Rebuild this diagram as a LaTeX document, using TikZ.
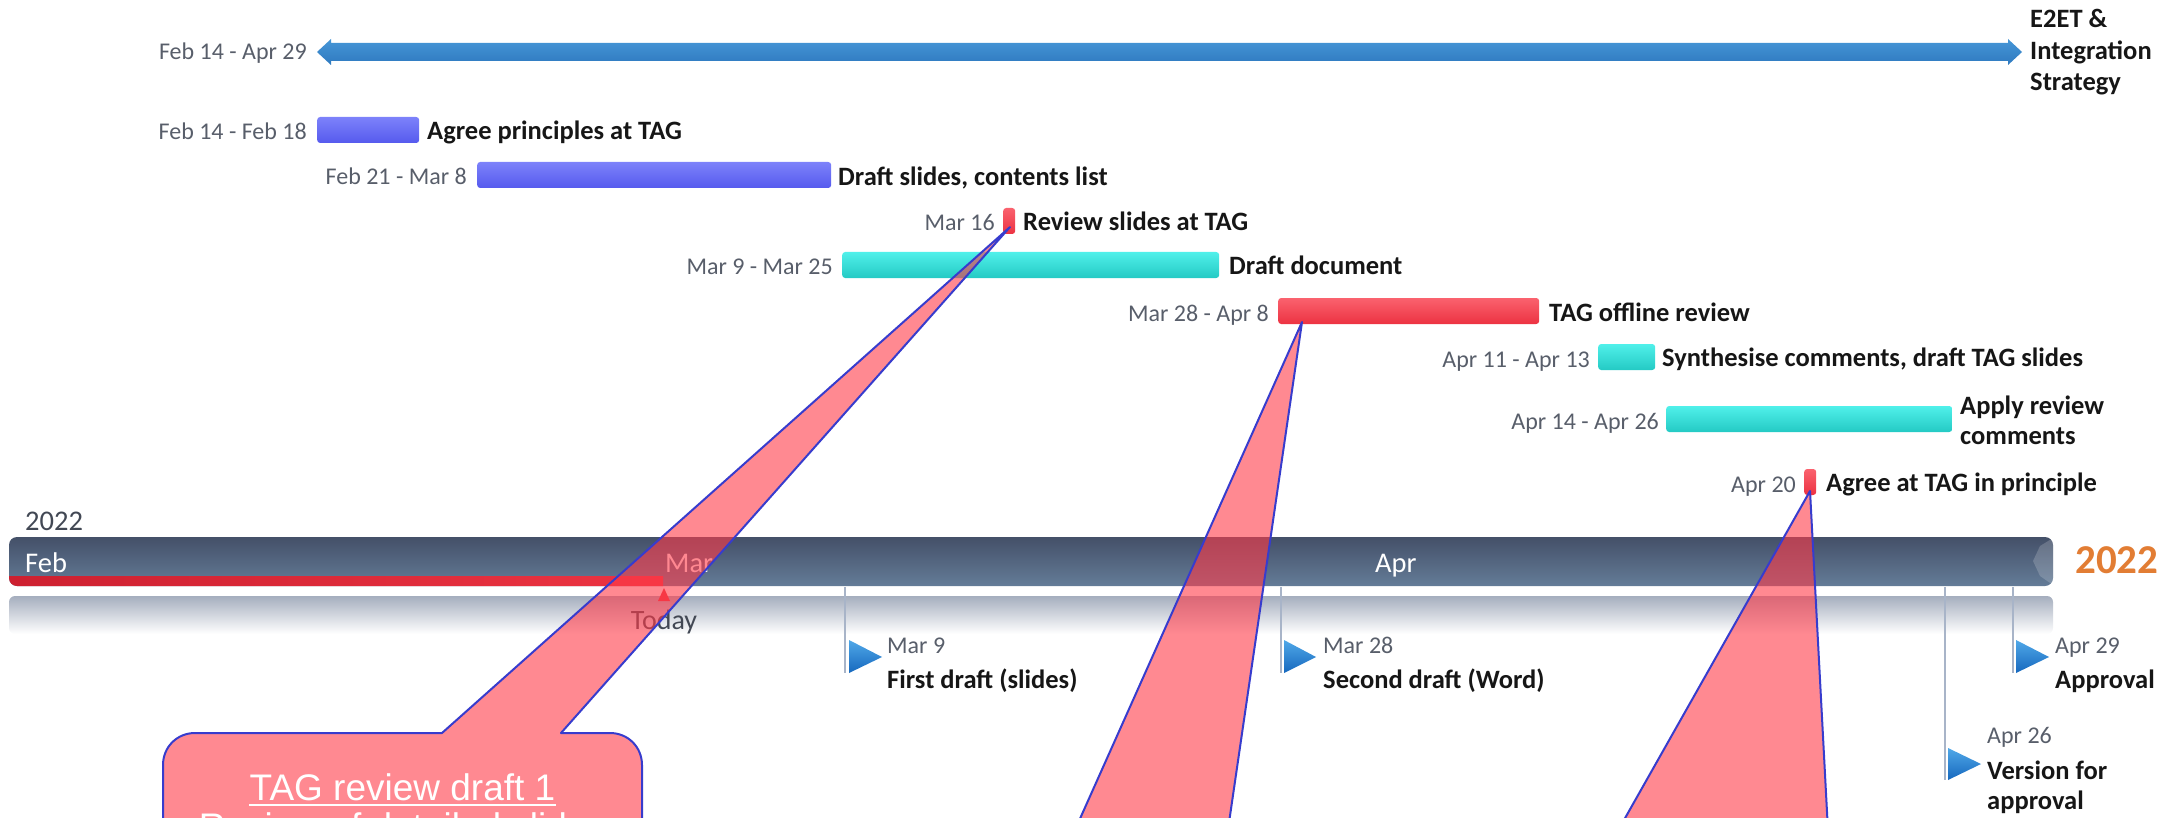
\documentclass[tikz,border=0pt]{standalone}
\usepackage{fontspec}
\setmainfont{Carlito}
\newfontfamily\arialfont{Liberation Sans}
\definecolor{violetbar}{RGB}{86,90,238}
\definecolor{violettop}{RGB}{125,130,250}
\definecolor{cyanbar}{RGB}{36,202,196}
\definecolor{cyantop}{RGB}{80,240,234}
\definecolor{redbar}{RGB}{236,50,66}
\definecolor{redtop}{RGB}{250,98,110}
\definecolor{arrowblue}{RGB}{10,98,180}
\definecolor{arrowlight}{RGB}{70,150,215}
\definecolor{datecol}{RGB}{88,94,106}
\definecolor{labelcol}{RGB}{22,22,22}
\definecolor{tlbartop}{RGB}{68,80,104}
\definecolor{tlbarbot}{RGB}{100,124,152}
\definecolor{todayred}{RGB}{205,32,48}
\definecolor{todayred2}{RGB}{236,52,66}
\definecolor{yearorange}{RGB}{226,125,52}
\definecolor{callfill}{RGB}{255,58,72}
\definecolor{callline}{RGB}{55,60,205}
\definecolor{tickcol}{RGB}{168,180,200}
\definecolor{msblue}{RGB}{22,104,190}
\definecolor{msbluelight}{RGB}{80,168,232}
\definecolor{reflgray}{RGB}{165,174,190}
\definecolor{yeargray}{RGB}{66,72,84}
\begin{document}
\begin{tikzpicture}[x=1pt,y=-1pt,
  datelbl/.style={font=\fontsize{24}{28}\selectfont, text=datecol, inner sep=0pt, anchor=base east},
  msdate/.style={font=\fontsize{24}{28}\selectfont, text=datecol, inner sep=0pt, anchor=base west},
  tasklbl/.style={font=\bfseries\fontsize{26.5}{31}\selectfont, text=labelcol, inner sep=0pt, anchor=base west},
  monthlbl/.style={font=\fontsize{28.5}{32}\selectfont, text=white, inner sep=0pt, anchor=base west},
  gbar/.style={rounded corners=3pt, inner sep=0pt, minimum height=26pt, anchor=west},
  violetbarS/.style={gbar, top color=violettop, bottom color=violetbar},
  cyanbarS/.style={gbar, top color=cyantop, bottom color=cyanbar},
  redbarS/.style={gbar, top color=redtop, bottom color=redbar},
  tickline/.style={draw=tickcol, line width=1.2pt},
  msmark/.style={top color=msbluelight, bottom color=msblue},
  callout/.style={draw=callline, line width=2pt, fill=callfill, fill opacity=0.6, line join=round},
  calltext/.style={font=\arialfont\fontsize{37}{42}\selectfont, text=white, inner sep=0pt, anchor=base}]
\useasboundingbox (0,0) rectangle (2183,818);
\begin{scope}
\clip (0,0) rectangle (2183,818);

% ---------- top summary arrow ----------
\shade[top color=arrowlight, middle color=arrowblue, bottom color=arrowblue!85!white]
  (317,52) -- (331,39) -- (331,43) -- (2008,43) -- (2008,39) -- (2022,52)
  -- (2008,65) -- (2008,61) -- (331,61) -- (331,65) -- cycle;
\node[datelbl] (d0) at (307,60) {Feb 14 - Apr 29};
\node[tasklbl] (l0a) at (2030,28) {E2ET \&};
\node[tasklbl] (l0b) at (2030,60) {Integration};
\node[tasklbl] (l0c) at (2030,91) {Strategy};

% ---------- task bars ----------
\node[violetbarS, minimum width=102pt] (b1) at (317,130) {};
\node[violetbarS, minimum width=354pt] (b2) at (477,175) {};
\node[redbarS, minimum width=12pt] (b3) at (1003,221) {};
\node[cyanbarS, minimum width=377pt] (b4) at (842,265) {};
\node[redbarS, minimum width=261pt] (b5) at (1278,311) {};
\node[cyanbarS, minimum width=57pt] (b6) at (1598,357) {};
\node[cyanbarS, minimum width=286pt] (b7) at (1666,419) {};
\node[redbarS, minimum width=12pt] (b8) at (1804,482) {};

\node[datelbl] (d1) at (307,140) {Feb 14 - Feb 18};
\node[datelbl] (d2) at (467,185) {Feb 21 - Mar 8};
\node[datelbl] (d3) at (995,231) {Mar 16};
\node[datelbl] (d4) at (833,275) {Mar 9 - Mar 25};
\node[datelbl] (d5) at (1269,321) {Mar 28 - Apr 8};
\node[datelbl] (d6) at (1590,367) {Apr 11 - Apr 13};
\node[datelbl] (d7) at (1659,429) {Apr 14 - Apr 26};
\node[datelbl] (d8) at (1796,492) {Apr 20};

\node[tasklbl] (l1) at (427,140) {Agree principles at TAG};
\node[tasklbl] (l2) at (838,186) {Draft slides, contents list};
\node[tasklbl] (l3) at (1023,231) {Review slides at TAG};
\node[tasklbl] (l4) at (1229,275) {Draft document};
\node[tasklbl] (l5) at (1549,321) {TAG offline review};
\node[tasklbl] (l6) at (1662,366) {Synthesise comments, draft TAG slides};
\node[tasklbl] (l7a) at (1960,414) {Apply review};
\node[tasklbl] (l7b) at (1960,444) {comments};
\node[tasklbl] (l8) at (1826,491) {Agree at TAG in principle};

% ---------- timeline band ----------
\node[font=\fontsize{28.5}{32}\selectfont, text=yeargray, inner sep=0pt, anchor=base west] (yr) at (25,530) {2022};
\shade[top color=reflgray, bottom color=white, rounded corners=6pt] (9,596) rectangle (2053,634);
\shade[top color=tlbartop, bottom color=tlbarbot, rounded corners=8pt] (9,537) rectangle (2053,586);
\begin{scope}
  \clip[rounded corners=8pt] (9,537) rectangle (2053,586);
  \shade[left color=todayred, right color=todayred2] (9,576) rectangle (663,586);
  \fill[white, opacity=0.18] (2053,538) -- (2040,546) -- (2033,561) -- (2040,576) -- (2053,585) -- cycle;
\end{scope}
\node[monthlbl] (mfeb) at (25,572) {Feb};
\node[monthlbl] (mmar) at (665,572) {Mar};
\node[monthlbl] (mapr) at (1375,572) {Apr};
\node[font=\bfseries\fontsize{41}{46}\selectfont, text=yearorange, inner sep=0pt, anchor=base west] (yr2) at (2075,573) {2022};

% today marker
\fill[todayred2] (664,588) -- (670,601) -- (658,601) -- cycle;
\node[font=\fontsize{28}{32}\selectfont, text=yeargray, inner sep=0pt, anchor=base] (today) at (664,629) {Today};

% ---------- milestones ----------
\draw[tickline] (845,587) -- (845,673);
\draw[tickline] (1281,587) -- (1281,673);
\draw[tickline] (2013,587) -- (2013,673);
\draw[tickline] (1945,587) -- (1945,780);
\shade[msmark] (849,640) -- (882,657) -- (849,673) -- cycle;
\shade[msmark] (1284,640) -- (1316,657) -- (1284,673) -- cycle;
\shade[msmark] (2016,640) -- (2049,657) -- (2016,673) -- cycle;
\shade[msmark] (1948,748) -- (1981,764) -- (1948,780) -- cycle;

\node[msdate] (md1) at (887,653) {Mar 9};
\node[tasklbl] (ml1) at (887,688) {First draft (slides)};
\node[msdate] (md2) at (1323,653) {Mar 28};
\node[tasklbl] (ml2) at (1323,688) {Second draft (Word)};
\node[msdate] (md3) at (2055,653) {Apr 29};
\node[tasklbl] (ml3) at (2055,688) {Approval};
\node[msdate] (md4) at (1987,743) {Apr 26};
\node[tasklbl] (ml4a) at (1987,779) {Version for};
\node[tasklbl] (ml4b) at (1987,809) {approval};

% ---------- callouts ----------
\coordinate (tip1) at (1010,227);
\coordinate (tip2) at (1302,322);
\coordinate (tip3) at (1810,491);
\draw[callout] (561,733) -- (tip1) -- (442,733) -- (195,733)
  .. controls (177,733) and (163,747) .. (163,765) -- (163,900) -- (642,900) -- (642,765)
  .. controls (642,747) and (628,733) .. (610,733) -- cycle;
\draw[callout] (tip2) -- (1066,850) -- (1225,850) -- cycle;
\draw[callout] (tip3) -- (1607,850) -- (1829,850) -- cycle;

\node[calltext] (ct1) at (402.5,800) {TAG review draft 1};
\draw[white, line width=2pt] ([yshift=-4.5pt]ct1.base west) -- ([yshift=-4.5pt]ct1.base east);
\node[calltext] (ct2) at (402.5,839) {Review of detailed slides};
\end{scope}
\end{tikzpicture}
\end{document}
